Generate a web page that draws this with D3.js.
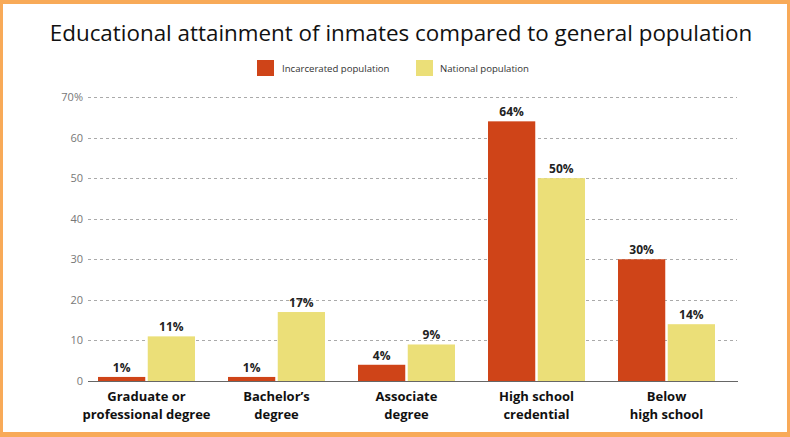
<!DOCTYPE html>
<html><head><meta charset="utf-8">
<script src="https://cdn.jsdelivr.net/npm/d3@7"></script>
<style>html,body{margin:0;padding:0;background:#fff;}svg{display:block;}</style>
</head><body>
<svg id="c" width="790" height="437"></svg>
<script>
const categories = [["Graduate or","professional degree"],["Bachelor’s","degree"],["Associate","degree"],["High school","credential"],["Below","high school"]];
const incarcerated = [1,1,4,64,30];
const national = [11,17,9,50,14];
const seriesNames = ["Incarcerated population","National population"];
const yTicks = [0,10,20,30,40,50,60,70];
const colors = ["#CF4418","#EBDF78"];

const svg = d3.select("#c");
const W = 790, H = 437;
svg.append("rect").attr("x",0).attr("y",0).attr("width",W).attr("height",H).attr("fill","#F8AA58");
svg.append("rect").attr("x",3).attr("y",4).attr("width",W-6).attr("height",H-9).attr("fill","#fff");

svg.append("text").attr("x",401).attr("y",41).attr("text-anchor","middle")
  .attr("font-family","Open Sans, sans-serif").attr("font-size",22.4).attr("fill","#111")
  .text("Educational attainment of inmates compared to general population");

// legend
const leg = [[257,282],[416,440]];
seriesNames.forEach((n,i)=>{
  svg.append("rect").attr("x",leg[i][0]).attr("y",60).attr("width",17).attr("height",16).attr("fill",colors[i]);
  svg.append("text").attr("x",leg[i][1]).attr("y",72).attr("font-family","Open Sans, sans-serif")
    .attr("font-size",9.6).attr("fill","#333").text(n);
});

const y = d3.scaleLinear().domain([0,70]).range([381,97]);
const x0 = d3.scaleBand().domain(d3.range(categories.length)).range([81.5,731.5]).paddingInner(0.254).paddingOuter(0.127);
const x1 = d3.scaleBand().domain([0,1]).range([0,x0.bandwidth()]).paddingInner(0.05);

// grid
const yAxis = d3.axisLeft(y).tickValues(yTicks).tickSize(0).tickPadding(0)
  .tickFormat(d=> d===70 ? "70%" : d);
const ga = svg.append("g").attr("transform","translate(83,0)").call(yAxis);
ga.select(".domain").remove();
ga.selectAll("text").attr("font-family","Open Sans, sans-serif").attr("font-size",11).attr("fill","#777");
svg.append("g").selectAll("line").data(yTicks.filter(d=>d>0)).join("line")
  .attr("x1",88).attr("x2",737).attr("y1",d=>Math.round(y(d))+0.5).attr("y2",d=>Math.round(y(d))+0.5)
  .attr("stroke","#aaa").attr("stroke-width",1).attr("stroke-dasharray","3,3");

const data = categories.map((c,i)=>[incarcerated[i],national[i]]);
const g = svg.append("g");
data.forEach((vals,i)=>{
  vals.forEach((v,j)=>{
    const bx = x0(i)+x1(j);
    g.append("rect").attr("x",bx).attr("y",y(v)).attr("width",x1.bandwidth()).attr("height",y(0)-y(v)).attr("fill",colors[j]);
    g.append("text").attr("x",bx+x1.bandwidth()/2).attr("y",y(v)-5).attr("text-anchor","middle")
      .attr("font-family","Open Sans, sans-serif").attr("font-weight",700).attr("font-size",12).attr("fill","#222")
      .text(v+"%");
  });
});
svg.append("line").attr("x1",88).attr("x2",738).attr("y1",381.5).attr("y2",381.5).attr("stroke","#666").attr("stroke-width",1.2);

categories.forEach((c,i)=>{
  const cx = x0(i)+x0.bandwidth()/2;
  c.forEach((line,k)=>{
    svg.append("text").attr("x",cx).attr("y",401+k*18).attr("text-anchor","middle")
      .attr("font-family","Open Sans, sans-serif").attr("font-weight",700).attr("font-size",13).attr("fill","#111")
      .text(line);
  });
});
</script>
</body></html>
